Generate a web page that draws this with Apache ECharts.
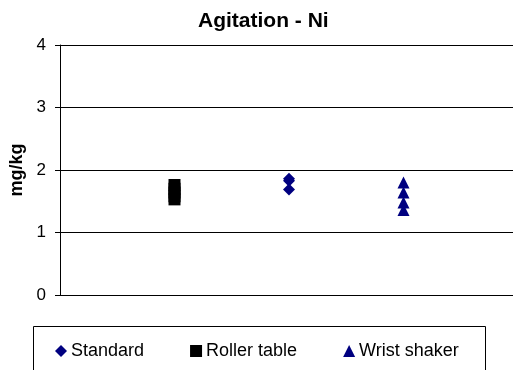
<!DOCTYPE html>
<html>
<head>
<meta charset="utf-8">
<script src="https://cdn.jsdelivr.net/npm/echarts@6/dist/echarts.min.js"></script>
<style>
  html, body { margin: 0; padding: 0; background: #fff; }
  #chart { width: 513px; height: 370px; }
</style>
</head>
<body>
<div id="chart"></div>
<script>
// group positions on the hidden x axis
const rollerX = 1;
const standardX = 2;
const wristX = 3;

// Ni results, mg/kg
const standardVals = [1.86, 1.83, 1.69];
const rollerVals = [1.76, 1.70, 1.64, 1.58, 1.53];
const wristVals = [1.80, 1.64, 1.48, 1.36];

const yTicks = [0, 1, 2, 3, 4];

const font = 'Liberation Sans, Arial, sans-serif';

function pts (x, vals) {
  return vals.map(v => [x, v]);
}

const chart = echarts.init(document.getElementById('chart'));
chart.setOption({
  animation: false,
  backgroundColor: '#fff',
  title: {
    text: 'Agitation - Ni',
    left: 193,
    top: 6,
    textStyle: { fontFamily: font, fontSize: 21, fontWeight: 'bold', color: '#000' }
  },
  legend: {
    left: 50,
    top: 337,
    itemWidth: 12,
    itemHeight: 12,
    itemGap: 46,
    textStyle: { fontFamily: font, fontSize: 18, color: '#000', padding: [0, 0, 0, -1] },
    data: [
      { name: 'Standard', icon: 'diamond' },
      { name: 'Roller table', icon: 'rect' },
      { name: 'Wrist shaker', icon: 'triangle' }
    ]
  },
  graphic: [{
    type: 'rect',
    shape: { x: 33.5, y: 326.5, width: 452, height: 60 },
    style: { fill: 'none', stroke: '#000', lineWidth: 1 }
  }],
  grid: { left: 60, top: 45, width: 458, height: 250, outerBoundsMode: 'none', containLabel: false },
  xAxis: {
    type: 'value',
    min: 0,
    max: 4,
    axisLine: { show: true, lineStyle: { color: '#000', width: 1 } },
    axisTick: { show: false },
    axisLabel: { show: false },
    splitLine: { show: false }
  },
  yAxis: {
    type: 'value',
    min: yTicks[0],
    max: yTicks[yTicks.length - 1],
    interval: 1,
    name: 'mg/kg',
    nameLocation: 'middle',
    nameGap: 34,
    nameTextStyle: { fontFamily: font, fontSize: 18, fontWeight: 'bold', color: '#000' },
    axisLine: { show: true, lineStyle: { color: '#000', width: 1 } },
    axisTick: { show: true, inside: false, length: 5, lineStyle: { color: '#000' } },
    axisLabel: { fontFamily: font, fontSize: 17, color: '#000', margin: 14 },
    splitLine: { show: true, lineStyle: { color: '#000', width: 1 } }
  },
  series: [
    {
      name: 'Standard',
      type: 'scatter',
      symbol: 'diamond',
      symbolSize: 12,
      itemStyle: { color: '#000080', opacity: 1 },
      data: pts(standardX, standardVals)
    },
    {
      name: 'Roller table',
      type: 'scatter',
      symbol: 'rect',
      symbolSize: 12,
      itemStyle: { color: '#000', opacity: 1 },
      data: pts(rollerX, rollerVals)
    },
    {
      name: 'Wrist shaker',
      type: 'scatter',
      symbol: 'triangle',
      symbolSize: 12,
      itemStyle: { color: '#000080', opacity: 1 },
      data: pts(wristX, wristVals)
    }
  ]
});
</script>
</body>
</html>
